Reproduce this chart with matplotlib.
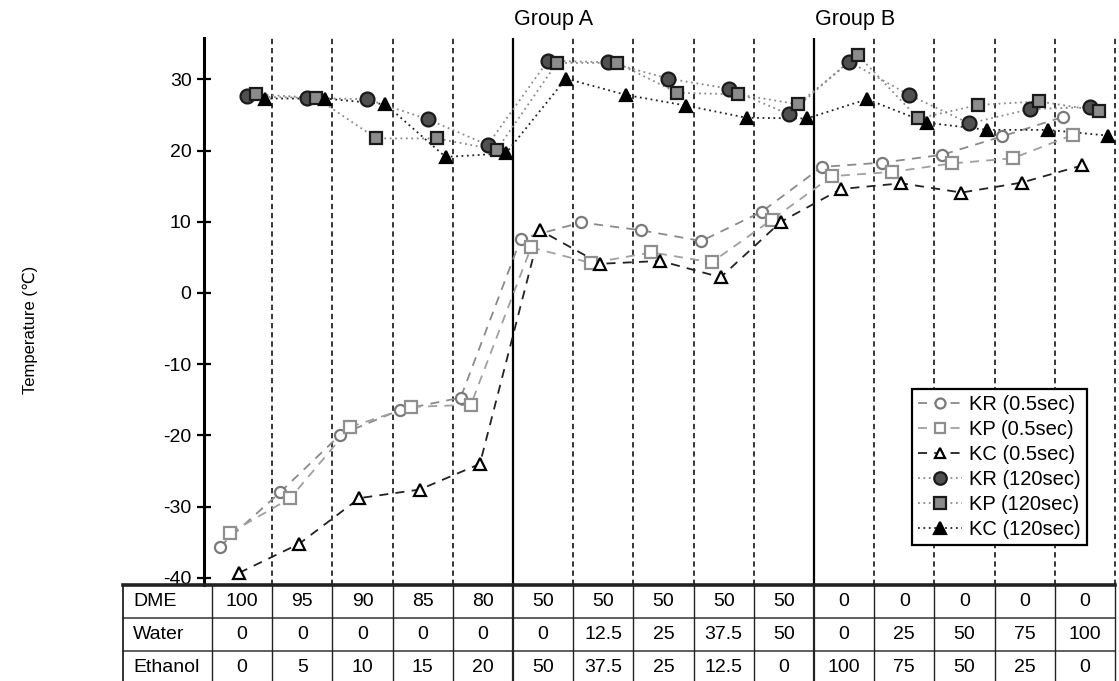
import matplotlib
matplotlib.use("Agg")
import matplotlib.pyplot as plt
import numpy as np
from matplotlib.lines import Line2D

plt.rcParams['font.family'] = ['Liberation Sans', 'DejaVu Sans']
plt.rcParams['axes.unicode_minus'] = False

# Mixture composition (vol %) for each of the 15 test fuels
dme = ["100", "95", "90", "85", "80", "50", "50", "50", "50", "50", "0", "0", "0", "0", "0"]
water = ["0", "0", "0", "0", "0", "0", "12.5", "25", "37.5", "50", "0", "25", "50", "75", "100"]
ethanol = ["0", "5", "10", "15", "20", "50", "37.5", "25", "12.5", "0", "100", "75", "50", "25", "0"]
row_labels = ["DME", "Water", "Ethanol"]

# Temperature readings (°C)
kr_05 = [-35.6, -28.0, -19.9, -16.4, -14.7, 7.6, 9.9, 8.8, 7.3, 11.4, 17.7, 18.3, 19.4, 22.0, 24.7]
kp_05 = [-33.7, -28.8, -18.8, -16.0, -15.7, 6.4, 4.2, 5.7, 4.3, 10.3, 16.4, 17.0, 18.2, 18.9, 22.2]
kc_05 = [-39.3, -35.2, -28.8, -27.6, -24.0, 8.8, 4.1, 4.5, 2.2, 10.0, 14.6, 15.4, 14.1, 15.5, 17.9]
kr_120 = [27.6, 27.4, 27.2, 24.4, 20.8, 32.6, 32.4, 30.1, 28.7, 25.1, 32.5, 27.8, 23.8, 25.8, 26.1]
kp_120 = [27.9, 27.4, 21.7, 21.7, 20.1, 32.3, 32.3, 28.1, 27.9, 26.5, 33.4, 24.5, 26.4, 26.9, 25.6]
kc_120 = [27.3, 27.3, 26.5, 19.1, 19.6, 30.1, 27.8, 26.3, 24.6, 24.5, 27.2, 23.9, 22.9, 22.9, 22.1]

group_labels = ["Group A", "Group B"]
group_starts = [5, 10]

W, H = 1119, 681
fig = plt.figure(figsize=(W / 100, H / 100), dpi=100)

# pixel-based layout helpers
ppu = 60.2          # pixels per mixture column
x0_px = 212         # left edge of first mixture column
def fx(px):
    return px / W
def fy(py):
    return 1 - py / H

ax_l, ax_r, ax_t, ax_b = 204, 1117, 38, 585
ax = fig.add_axes([fx(ax_l), fy(ax_b), fx(ax_r - ax_l), (ax_b - ax_t) / H])
ax.set_xlim((ax_l - x0_px) / ppu, (ax_r - x0_px) / ppu)
ax.set_ylim(-41.0, 35.8)

n = len(dme)
cols = np.arange(n)

# column dividers
for b in range(1, n + 1):
    if b in group_starts:
        ax.axvline(b, color='black', lw=1.6, ls='-', zorder=1)
    else:
        ax.axvline(b, color='black', lw=1.1, ls=(0, (3.5, 2.5)), zorder=1)

# series styles: (values, offset within column, marker, face, edge, line colour, line style, msize, label)
series = [
    (kr_05, 0.13, 'o', 'white', '#7a7a7a', '#8a8a8a', (0, (5, 4)), 8, 'KR (0.5sec)'),
    (kp_05, 0.30, 's', 'white', '#8f8f8f', '#a0a0a0', (0, (5, 4)), 8, 'KP (0.5sec)'),
    (kc_05, 0.45, '^', 'white', 'black', '#222222', (0, (5, 4)), 8, 'KC (0.5sec)'),
    (kr_120, 0.58, 'o', '#505050', '#1a1a1a', '#8a8a8a', (0, (1, 2)), 10, 'KR (120sec)'),
    (kp_120, 0.73, 's', '#8c8c8c', '#1a1a1a', '#8a8a8a', (0, (1, 2)), 9, 'KP (120sec)'),
    (kc_120, 0.88, '^', 'black', 'black', '#222222', (0, (1, 2)), 9, 'KC (120sec)'),
]

handles = []
for vals, off, mk, fc, ec, lc, ls, ms, lab in series:
    xs = cols + off
    ax.plot(xs, vals, color=lc, ls=ls, lw=1.3, zorder=2)
    ax.plot(xs, vals, ls='none', marker=mk, ms=ms, mfc=fc, mec=ec, mew=1.6, zorder=3)
    handles.append(Line2D([0], [0], color=lc, ls=ls, lw=1.3, marker=mk, ms=ms * 0.9,
                          mfc=fc, mec=ec, mew=1.6, label=lab))

for s in ['top', 'right', 'bottom']:
    ax.spines[s].set_visible(False)
ax.spines['left'].set_linewidth(2.2)
ax.set_xticks([])
ax.set_yticks(np.arange(-40, 31, 10))
ax.tick_params(axis='y', direction='inout', length=10, width=1.6, labelsize=14, pad=4)

fig.text(fx(30), fy(330), "Temperature (\u2103)", rotation=90, ha='center', va='center',
         fontsize=12)

for lab, g in zip(group_labels, group_starts):
    ax.text(g + 0.02, 1.015, lab, transform=ax.get_xaxis_transform(), ha='left',
            va='bottom', fontsize=15.5)

leg = ax.legend(handles=handles, loc='upper right',
                bbox_to_anchor=((1087 - ax_l) / (ax_r - ax_l), 1 - (389 - ax_t) / (ax_b - ax_t)),
                borderaxespad=0, fontsize=14.5, handlelength=2.2, handletextpad=0.35,
                labelspacing=0.3, borderpad=0.3, fancybox=False, framealpha=1,
                edgecolor='black')
leg.get_frame().set_linewidth(1.6)

# composition table beneath the plot
tb_l, tb_r, tb_t, tb_b = 123, 1117, 585, 684
tax = fig.add_axes([fx(tb_l), fy(tb_b), fx(tb_r - tb_l), (tb_b - tb_t) / H])
tax.set_xlim((tb_l - x0_px) / ppu, (tb_r - x0_px) / ppu)
tax.set_ylim(3, 0)
tax.axis('off')
left_edge = (tb_l - x0_px) / ppu
right_edge = (1115 - x0_px) / ppu
tax.plot([left_edge, right_edge], [0, 0], color='#222222', lw=2.6, clip_on=False)
for r in (1, 2):
    tax.plot([left_edge, right_edge], [r, r], color='#333333', lw=1.1, clip_on=False)
tax.plot([left_edge, left_edge], [0, 3], color='#222222', lw=1.3, clip_on=False)
for b in range(0, n + 1):
    lw = 1.6 if b in group_starts else 1.0
    tax.plot([b, b], [0, 3], color='#222222', lw=lw, clip_on=False)

for r, (lab, row) in enumerate(zip(row_labels, [dme, water, ethanol])):
    tax.text(left_edge + 0.17, r + 0.5, lab, ha='left', va='center', fontsize=14)
    for i, v in enumerate(row):
        tax.text(i + 0.5, r + 0.5, v, ha='center', va='center', fontsize=14)

fig.savefig("out.png", dpi=100)
